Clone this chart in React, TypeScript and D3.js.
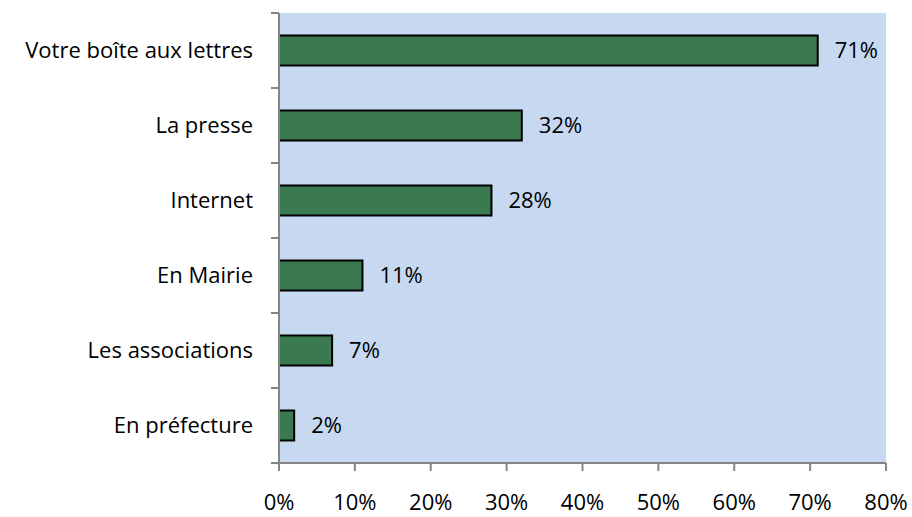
import { useRef, useEffect } from "react";
import * as d3 from "d3";

const categories = [
  "Votre boîte aux lettres",
  "La presse",
  "Internet",
  "En Mairie",
  "Les associations",
  "En préfecture",
];
const values = [71, 32, 28, 11, 7, 2];
const xTicks = [0, 10, 20, 30, 40, 50, 60, 70, 80];

const W = 912;
const H = 517;
const FONT = "'Open Sans', Lato, sans-serif";
const FS = "22px";

export default function App() {
  const svgRef = useRef<SVGSVGElement>(null);

  useEffect(() => {
    if (!svgRef.current) return;
    const svg = d3.select(svgRef.current);
    svg.selectAll("*").remove();

    const margin = { top: 13, right: 26, bottom: 54, left: 279 };
    const width = W - margin.left - margin.right;
    const height = H - margin.top - margin.bottom;

    const g = svg
      .append("g")
      .attr("transform", `translate(${margin.left},${margin.top})`);

    const x = d3.scaleLinear().domain([0, 80]).range([0, width]);
    const y = d3
      .scaleBand<string>()
      .domain(categories)
      .range([0, height])
      .paddingInner(0.6)
      .paddingOuter(0.3);

    // plot background
    g.append("rect")
      .attr("x", 0)
      .attr("y", 0)
      .attr("width", width)
      .attr("height", height)
      .attr("fill", "#c6d9f1");

    // bars
    g.selectAll("rect.bar")
      .data(values)
      .enter()
      .append("rect")
      .attr("class", "bar")
      .attr("x", 0)
      .attr("y", (_, i) => y(categories[i])!)
      .attr("width", (d) => x(d))
      .attr("height", y.bandwidth())
      .attr("fill", "#3b7a50")
      .attr("stroke", "#000")
      .attr("stroke-width", 2);

    // data labels
    g.selectAll("text.val")
      .data(values)
      .enter()
      .append("text")
      .attr("class", "val")
      .attr("x", (d) => x(d) + 17)
      .attr("y", (_, i) => y(categories[i])! + y.bandwidth() / 2)
      .attr("dy", "0.35em")
      .attr("font-family", FONT)
      .attr("font-size", FS)
      .attr("fill", "#000")
      .text((d) => `${d}%`);

    // category labels
    const step = height / categories.length;
    categories.forEach((c) => {
      g.append("text")
        .attr("x", -26)
        .attr("y", y(c)! + y.bandwidth() / 2)
        .attr("dy", "0.35em")
        .attr("text-anchor", "end")
        .attr("font-family", FONT)
        .attr("font-size", FS)
        .attr("fill", "#000")
        .text(c);
    });

    // y axis line + ticks at band boundaries
    const axisColor = "#868686";
    g.append("line")
      .attr("x1", 0)
      .attr("x2", 0)
      .attr("y1", 0)
      .attr("y2", height)
      .attr("stroke", axisColor)
      .attr("stroke-width", 2);
    d3.range(categories.length + 1).forEach((i) => {
      g.append("line")
        .attr("x1", -8)
        .attr("x2", 0)
        .attr("y1", i * step)
        .attr("y2", i * step)
        .attr("stroke", axisColor)
        .attr("stroke-width", 2);
    });

    // x axis
    g.append("line")
      .attr("x1", -8)
      .attr("x2", width)
      .attr("y1", height)
      .attr("y2", height)
      .attr("stroke", axisColor)
      .attr("stroke-width", 2);
    xTicks.forEach((t) => {
      g.append("line")
        .attr("x1", x(t))
        .attr("x2", x(t))
        .attr("y1", height)
        .attr("y2", height + 8)
        .attr("stroke", axisColor)
        .attr("stroke-width", 2);
      g.append("text")
        .attr("x", x(t))
        .attr("y", height + 39)
        .attr("dy", "0.35em")
        .attr("text-anchor", "middle")
        .attr("font-family", FONT)
        .attr("font-size", FS)
        .attr("fill", "#000")
        .text(`${t}%`);
    });
  }, []);

  return (
    <svg
      ref={svgRef}
      width={W}
      height={H}
      style={{ position: "absolute", left: 0, top: 0, background: "#fff" }}
    />
  );
}
